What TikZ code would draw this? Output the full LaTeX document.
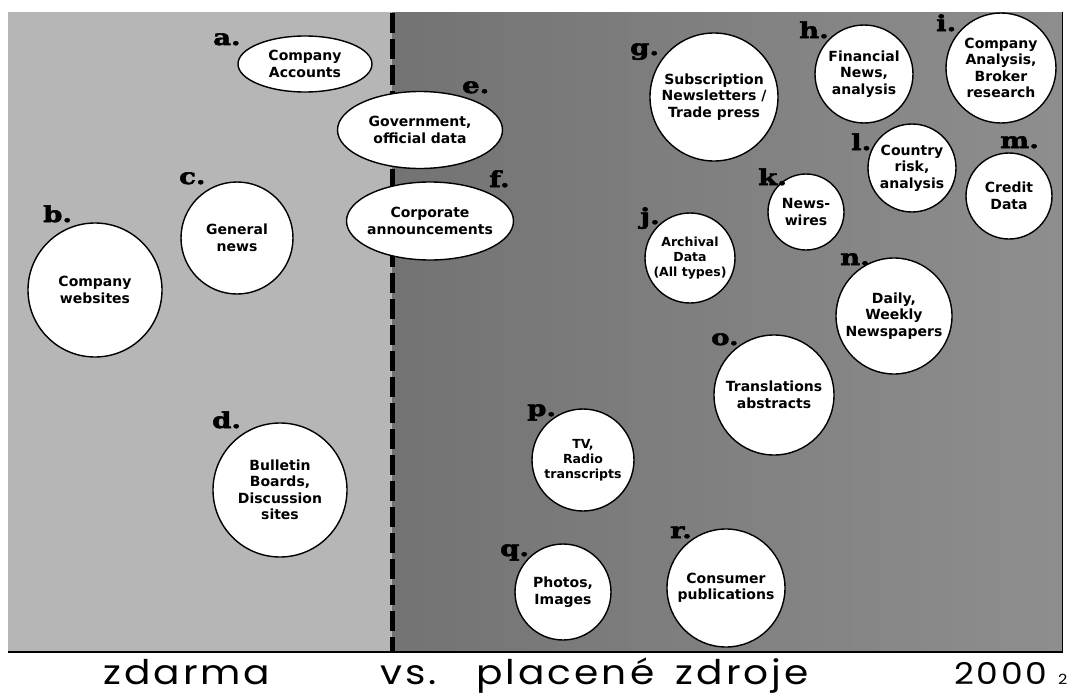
\documentclass[tikz,border=0pt]{standalone}
\usepackage{fontspec}
\setmainfont{DejaVu Sans}
\newfontfamily\letfont{DejaVu Serif}[FakeStretch=1.25,FakeBold=2.5]
\newfontfamily\botfont{Poppins}[FakeStretch=1.15,LetterSpace=9]
\usetikzlibrary{shapes.geometric}
\definecolor{lbg}{HTML}{B6B6B6}
\definecolor{rdark}{HTML}{737373}
\definecolor{rmid}{HTML}{868686}
\definecolor{rlight}{HTML}{8E8E8E}
\begin{document}
\begin{tikzpicture}[x=1pt,y=-1pt,
  bub/.style={circle,draw=black,line width=1.4pt,fill=white,inner sep=0pt,minimum size=#1,align=center,font=\bfseries\fontsize{14}{16.5}\selectfont},
  oval/.style 2 args={ellipse,draw=black,line width=1.4pt,fill=white,inner sep=0pt,minimum width=#1,minimum height=#2},
  txt/.style={align=center,inner sep=0pt,font=\bfseries\fontsize{14}{16.5}\selectfont},
  smalltxt/.style={font=\bfseries\fontsize{12.5}{15}\selectfont},
  lett/.style={anchor=base west,inner sep=0pt,font=\letfont\bfseries\fontsize{22}{22}\selectfont},
  bot/.style={anchor=base west,inner sep=0pt,font=\botfont\fontsize{34}{34}\selectfont}]
\useasboundingbox (0,0) rectangle (1072,696);
% background panels
\fill[lbg] (8,12) rectangle (392,652);
\shade[left color=rdark,middle color=rmid,right color=rlight] (392,12) rectangle (1062,652);
\draw[line width=1pt] (1062,12) -- (1062,652);
\draw[line width=2pt] (8,652) -- (1063,652);
% divider
\coordinate (divtop) at (392,13);
\coordinate (divbot) at (392,652);
\draw[line width=5pt,dash pattern=on 20pt off 6pt] (divtop) -- (divbot);
% free side
\node[oval={134}{56}] (a) at (305,64) {};
\node[txt] (at) at (a) {Company\\Accounts};
\node[bub=134] (b) at (95,290) {Company\\websites};
\node[bub=112] (c) at (237,238) {General\\news};
\node[bub=134] (d) at (280,490) {Bulletin\\Boards,\\Discussion\\sites};
\node[oval={165}{77}] (e) at (420,130) {};
\node[txt] (et) at (e) {Government,\\official data};
\node[oval={167}{78}] (f) at (430,221) {};
\node[txt] (ft) at (f) {Corporate\\announcements};
% paid side
\node[bub=128] (g) at (714,97) {Subscription\\Newsletters /\\Trade press};
\node[bub=98] (h) at (864,74) {Financial\\News,\\analysis};
\node[bub=110] (i) at (1001,68) {Company\\Analysis,\\Broker\\research};
\node[bub=90,smalltxt] (j) at (690,258) {Archival\\Data\\(All types)};
\node[bub=76] (k) at (806,212) {News-\\wires};
\node[bub=88] (l) at (912,168) {Country\\risk,\\analysis};
\node[bub=86] (m) at (1009,196) {Credit\\Data};
\node[bub=116] (n) at (894,316) {Daily,\\Weekly\\Newspapers};
\node[bub=120] (o) at (774,395) {Translations\\abstracts};
\node[bub=102,smalltxt] (p) at (583,460) {TV,\\Radio\\transcripts};
\node[bub=96] (q) at (563,592) {Photos,\\Images};
\node[bub=118] (r) at (726,588) {Consumer\\publications};
% letter labels
\node[lett] (la) at (213,45) {a.};
\node[lett] (lb) at (43,222) {b.};
\node[lett] (lc) at (179,184) {c.};
\node[lett] (ld) at (212,428) {d.};
\node[lett] (le) at (462,93) {e.};
\node[lett] (lf) at (489,187) {f.};
\node[lett] (lg) at (630,55) {g.};
\node[lett] (lh) at (799,38) {h.};
\node[lett] (li) at (936,31) {i.};
\node[lett] (lj) at (640,224) {j.};
\node[lett] (lk) at (758,185) {k.};
\node[lett] (ll) at (851,150) {l.};
\node[lett] (lm) at (1000,148) {m.};
\node[lett] (ln) at (840,265) {n.};
\node[lett] (lo) at (711,345) {o.};
\node[lett] (lp) at (527,416) {p.};
\node[lett] (lq) at (500,556) {q.};
\node[lett] (lr) at (670,538) {r.};
% bottom caption
\node[bot] (t1) at (103,684) {zdarma};
\node[bot] (t2) at (380,684) {vs.};
\node[bot] (t3) at (476,684) {placené\hspace{8pt} zdroje};
\node[bot,font=\botfont\fontsize{30}{30}\selectfont] (t4) at (954,684) {2000};
\node[bot,font=\botfont\fontsize{14}{14}\selectfont] (t5) at (1058,684) {2};
\end{tikzpicture}
\end{document}
